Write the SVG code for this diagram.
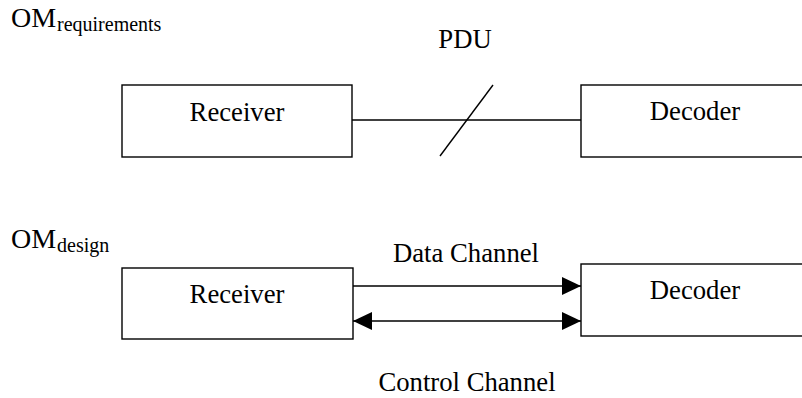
<svg xmlns="http://www.w3.org/2000/svg" width="802" height="398" viewBox="0 0 802 398">
  <style>
    text { font-family: "Liberation Serif", "Times New Roman", serif; fill: #000; }
    .lbl { font-size: 26.7px; text-anchor: middle; }
    .om { font-size: 28px; }
    .sub { font-size: 20px; }
    .box { fill: #fff; stroke: #000; stroke-width: 1.4; }
    .wire { fill: none; stroke: #000; stroke-width: 1.4; }
  </style>
  <defs>
    <marker id="head" markerUnits="userSpaceOnUse" markerWidth="20" markerHeight="20" viewBox="0 0 20 20" refX="19" refY="10" orient="auto-start-reverse">
      <path d="M0,1 L19,10 L0,19 Z" fill="#000"/>
    </marker>
  </defs>
  <rect width="802" height="398" fill="#fff"/>

  <!-- model titles -->
  <g id="title-requirements">
    <text class="om" x="11" y="27">OM</text>
    <text class="sub" x="57" y="31">requirements</text>
  </g>
  <g id="title-design">
    <text class="om" x="11" y="248">OM</text>
    <text class="sub" x="57" y="252">design</text>
  </g>

  <!-- connectors -->
  <g id="connectors">
    <line class="wire" x1="352" y1="120" x2="581" y2="120"/>
    <line class="wire" x1="440" y1="156" x2="493" y2="85"/>
    <text class="lbl" x="465" y="48">PDU</text>

    <line class="wire" x1="353" y1="286" x2="581" y2="286" marker-end="url(#head)"/>
    <text class="lbl" x="466" y="262">Data Channel</text>

    <line class="wire" x1="353" y1="321" x2="581" y2="321" marker-start="url(#head)" marker-end="url(#head)"/>
    <text class="lbl" x="467" y="391">Control Channel</text>
  </g>

  <!-- requirements model nodes -->
  <g id="receiver-req">
    <rect class="box" x="122" y="85" width="230" height="72"/>
    <text class="lbl" x="237" y="121">Receiver</text>
  </g>
  <g id="decoder-req">
    <rect class="box" x="581" y="85" width="228" height="72"/>
    <text class="lbl" x="695" y="120">Decoder</text>
  </g>

  <!-- design model nodes -->
  <g id="receiver-design">
    <rect class="box" x="122" y="268" width="231" height="71"/>
    <text class="lbl" x="237" y="303">Receiver</text>
  </g>
  <g id="decoder-design">
    <rect class="box" x="581" y="264" width="228" height="72"/>
    <text class="lbl" x="695" y="299">Decoder</text>
  </g>
</svg>
